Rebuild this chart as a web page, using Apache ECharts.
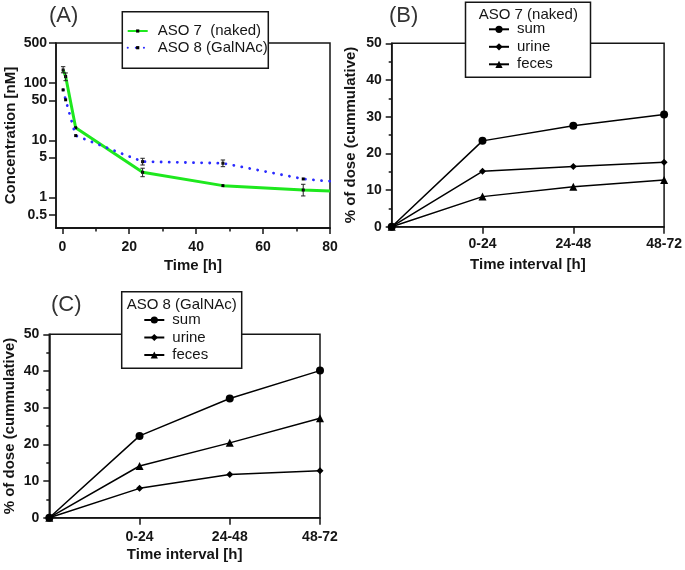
<!DOCTYPE html>
<html>
<head>
<meta charset="utf-8">
<script src="https://cdn.jsdelivr.net/npm/echarts@6/dist/echarts.min.js"></script>
<style>html,body{margin:0;padding:0;background:#fff;}#c{width:685px;height:570px;}</style>
</head>
<body>
<div id="c"></div>
<script>
// ---------- DATA ----------
// Panel A: plasma concentration (nM) vs time (h)
const timeA = [0.25, 1, 4, 24, 48, 72, 80];
const aso7Conc = [169, 130, 16.6, 2.77, 1.62, 1.36, 1.31];
const aso8Conc = [76, 51, 12.1, 4.25, 3.98, 2.12, 1.93];
const errTime = [0.25, 1, 24, 72, 24, 48];
const errLow  = [151, 110, 2.32, 1.07, 3.71, 3.47];
const errHigh = [193, 150, 3.26, 1.71, 4.86, 4.54];
const concTicks = [0.5, 1, 5, 10, 50, 100, 500];
const timeTicks = [0, 20, 40, 60, 80];
const timeMinorTicks = [10, 30, 50, 70];
// Panels B and C: cumulative % of dose
const intervalPos = [0, 1, 2, 3];
const intervalLabels = ['', '0-24', '24-48', '48-72'];
const bSum = [0, 23.4, 27.5, 30.6];
const bUrine = [0, 15.1, 16.4, 17.6];
const bFeces = [0, 8.2, 10.9, 12.7];
const cSum = [0, 22.3, 32.5, 40.1];
const cUrine = [0, 8.0, 11.8, 12.8];
const cFeces = [0, 14.1, 20.4, 27.1];

// ---------- STYLE ----------
const FONT = '"Liberation Sans", Arial, sans-serif';
const INK = '#151515';
const AXIS_LINE = {show: true, onZero: false, lineStyle: {color: INK, width: 1.5}};
const LBL = {color: INK, fontFamily: FONT, fontWeight: 'bold', fontSize: 14};
const NAME = {color: INK, fontFamily: FONT, fontWeight: 'bold', fontSize: 15};
const lg = Math.log10;

const pairs = (xs, ys, f) => xs.map((x, i) => [x, f ? f(ys[i]) : ys[i]]);

const aso7Data = pairs(timeA, aso7Conc, lg).map((p, i) => i === timeA.length - 1 ? {value: p, symbol: 'none'} : p);
const aso8Data = pairs(timeA, aso8Conc, lg).map((p, i) => i === timeA.length - 1 ? {value: p, symbol: 'none'} : p);
const errData = errTime.map((t, i) => [t, lg(errLow[i]), lg(errHigh[i])]);

function pctYAxis(grid, gap) {
  return {
    type: 'value', gridIndex: grid, min: 0, max: 50, interval: 10, position: 'left',
    axisLine: AXIS_LINE,
    axisTick: {show: true, length: 6, lineStyle: {color: INK, width: 1.5}},
    minorTick: {show: true, splitNumber: 2, length: 3, lineStyle: {color: INK, width: 1.5}},
    splitLine: {show: false},
    axisLabel: Object.assign({margin: 10}, LBL),
    name: '% of dose (cummulative)', nameLocation: 'middle', nameGap: gap, nameTextStyle: NAME
  };
}
function intervalXAxis(grid, margin, gap) {
  return {
    type: 'value', gridIndex: grid, min: 0, max: 3, position: 'bottom',
    axisLine: AXIS_LINE,
    axisTick: {show: true, length: 7, customValues: [1, 2, 3], lineStyle: {color: INK, width: 1.5}},
    splitLine: {show: false},
    axisLabel: Object.assign({margin: margin, customValues: [1, 2, 3], formatter: v => intervalLabels[Math.round(v)]}, LBL),
    name: 'Time interval [h]', nameLocation: 'middle', nameGap: gap, nameTextStyle: NAME
  };
}
function pctSeries(name, symbol, size, vals, xi, yi) {
  return {
    type: 'line', name: name, xAxisIndex: xi, yAxisIndex: yi,
    data: pairs(intervalPos, vals), symbol: symbol, symbolSize: size,
    clip: false,
    lineStyle: {color: '#000', width: 1.5}, itemStyle: {color: '#000'},
    z: 3
  };
}
function legendBox(x, y, w, h, title, tx, ty) {
  const els = [{
    type: 'rect', z: 10, shape: {x: x, y: y, width: w, height: h},
    style: {fill: '#fff', stroke: INK, lineWidth: 1.5}
  }];
  if (title) els.push({
    type: 'text', z: 11, x: tx, y: ty,
    style: {text: title, fontFamily: FONT, fontSize: 15, fill: INK, align: 'center', verticalAlign: 'middle', textAlign: 'center', textVerticalAlign: 'middle'}
  });
  return els;
}
function panelLabel(text, x, y) {
  return {type: 'text', z: 11, x: x, y: y,
    style: {text: text, fontFamily: FONT, fontSize: 22, fill: '#333', align: 'left', verticalAlign: 'middle', textAlign: 'left', textVerticalAlign: 'middle'}};
}
const legendCommon = {
  orient: 'vertical', selectedMode: false, padding: 0, z: 20,
  itemWidth: 20,
  textStyle: {color: INK, fontFamily: FONT, fontSize: 15, lineHeight: 16, padding: [0, 0, 0, 3]}
};

const option = {
  animation: false,
  backgroundColor: '#fff',
  grid: [
    {left: 56, top: 43, width: 274, height: 185, show: true, borderColor: INK, borderWidth: 1.5, backgroundColor: 'transparent'},
    {left: 391.7, top: 43.3, width: 274.3, height: 183.4, show: true, borderColor: INK, borderWidth: 1.5, backgroundColor: 'transparent'},
    {left: 49.3, top: 334.3, width: 270.7, height: 183.4, show: true, borderColor: INK, borderWidth: 1.5, backgroundColor: 'transparent'}
  ],
  xAxis: [
    {
      type: 'value', gridIndex: 0, min: -1.88, max: 80, position: 'bottom',
      axisLine: AXIS_LINE,
      axisTick: {show: true, length: 6, customValues: timeTicks, lineStyle: {color: INK, width: 1.5}},
      splitLine: {show: false},
      axisLabel: Object.assign({margin: 12, customValues: timeTicks}, LBL),
      name: 'Time [h]', nameLocation: 'middle', nameGap: 30, nameTextStyle: NAME
    },
    {
      type: 'value', gridIndex: 0, min: -1.88, max: 80, position: 'bottom',
      axisLine: {show: true, onZero: false, lineStyle: {color: INK, width: 1.5}},
      axisTick: {show: true, length: 3.5, customValues: timeMinorTicks, lineStyle: {color: INK, width: 1.5}},
      splitLine: {show: false},
      axisLabel: {show: false}
    },
    intervalXAxis(1, 10, 31),
    intervalXAxis(2, 12, 30)
  ],
  yAxis: [
    {
      type: 'value', gridIndex: 0, min: -0.53, max: lg(500), position: 'left',
      axisLine: AXIS_LINE,
      axisTick: {show: true, length: 7, customValues: concTicks.map(lg), lineStyle: {color: INK, width: 1.5}},
      splitLine: {show: false},
      axisLabel: Object.assign({margin: 9, customValues: concTicks.map(lg), formatter: v => String(+Math.pow(10, v).toPrecision(2))}, LBL),
      name: 'Concentration [nM]', nameLocation: 'middle', nameGap: 38, nameTextStyle: NAME
    },
    pctYAxis(1, 33),
    pctYAxis(2, 32)
  ],
  legend: [
    Object.assign({}, legendCommon, {left: 126.7, top: 23, itemHeight: 4, itemGap: 0.7,
      data: ['ASO 7  (naked)', 'ASO 8 (GalNAc)'], textStyle: Object.assign({}, legendCommon.textStyle, {padding: [0, 0, 0, 5]})}),
    Object.assign({}, legendCommon, {left: 488, top: 21.3, itemHeight: 9, itemGap: 1.5, data: ['sum', 'urine', 'feces']}),
    Object.assign({}, legendCommon, {left: 143.3, top: 312, itemHeight: 9, itemGap: 1.5, data: ['sum', 'urine', 'feces']})
  ],
  graphic: [].concat(
    legendBox(122.3, 11.7, 146, 56.6),
    legendBox(465.5, 2.2, 125, 75, 'ASO 7 (naked)', 528.3, 14.8),
    legendBox(121.7, 291.7, 120, 76.6, 'ASO 8 (GalNAc)', 181.7, 305),
    [panelLabel('(A)', 49, 15.5), panelLabel('(B)', 389, 15.5), panelLabel('(C)', 51, 305)]
  ),
  series: [
    {
      type: 'line', name: 'ASO 7  (naked)', xAxisIndex: 0, yAxisIndex: 0,
      data: aso7Data, symbol: 'rect', symbolSize: 3,
      lineStyle: {color: '#1ee81e', width: 3},
      itemStyle: {color: '#000'}, z: 2
    },
    {
      type: 'line', name: 'ASO 8 (GalNAc)', xAxisIndex: 0, yAxisIndex: 0,
      data: aso8Data, symbol: 'rect', symbolSize: 3,
      lineStyle: {color: '#2b2bff', width: 2.8, type: [0.1, 8], cap: 'round'},
      itemStyle: {color: '#000'}, z: 3
    },
    {
      type: 'custom', name: 'err', xAxisIndex: 1, yAxisIndex: 0,
      data: errData, encode: {x: 0, y: [1, 2]}, z: 4, silent: true,
      renderItem: function (params, api) {
        const x = api.value(0);
        const p1 = api.coord([x, api.value(1)]);
        const p2 = api.coord([x, api.value(2)]);
        const w = 2.2;
        const st = {stroke: '#222', lineWidth: 1};
        return {type: 'group', children: [
          {type: 'line', shape: {x1: p1[0], y1: p1[1], x2: p2[0], y2: p2[1]}, style: st},
          {type: 'line', shape: {x1: p1[0] - w, y1: p1[1], x2: p1[0] + w, y2: p1[1]}, style: st},
          {type: 'line', shape: {x1: p2[0] - w, y1: p2[1], x2: p2[0] + w, y2: p2[1]}, style: st}
        ]};
      }
    },
    pctSeries('sum', 'circle', 8, bSum, 2, 1),
    pctSeries('urine', 'diamond', 7, bUrine, 2, 1),
    pctSeries('feces', 'triangle', 8, bFeces, 2, 1),
    pctSeries('sum', 'circle', 8, cSum, 3, 2),
    pctSeries('urine', 'diamond', 7, cUrine, 3, 2),
    pctSeries('feces', 'triangle', 8, cFeces, 3, 2)
  ]
};
const chart = echarts.init(document.getElementById('c'), null, {renderer: 'canvas'});
chart.setOption(option);
</script>
</body>
</html>
